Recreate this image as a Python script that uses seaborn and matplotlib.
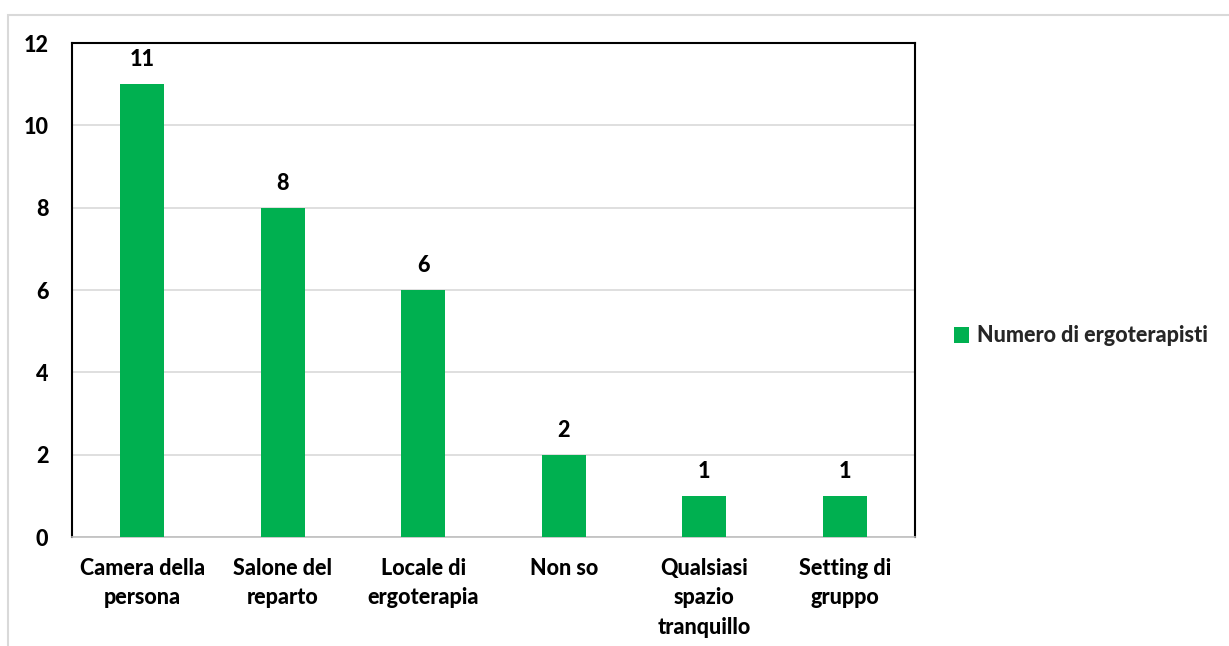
import matplotlib
matplotlib.use("Agg")
import matplotlib.pyplot as plt
import seaborn as sns
import pandas as pd
from matplotlib.patches import Patch, Rectangle

categories = ["Camera della\npersona", "Salone del\nreparto", "Locale di\nergoterapia",
              "Non so", "Qualsiasi\nspazio\ntranquillo", "Setting di\ngruppo"]
values = [11, 8, 6, 2, 1, 1]
series_name = "Numero di ergoterapisti"
yticks = [0, 2, 4, 6, 8, 10, 12]

sns.set_theme(style="white")
plt.rcParams["font.family"] = ["Lato", "DejaVu Sans"]
plt.rcParams["font.weight"] = 900

BAR = "#00B050"
FS = 15.5
W = 900
df = pd.DataFrame({"cat": categories, "val": values})

fig = plt.figure(figsize=(12.29, 6.46), dpi=100)
ax = fig.add_axes([72 / 1229, 1 - 537 / 646, (915 - 72) / 1229, (537 - 43) / 646])

sns.barplot(data=df, x="cat", y="val", color=BAR, saturation=1, width=0.31, ax=ax, zorder=3)
for p in ax.patches:
    p.set_edgecolor("none")

ax.set_ylim(0, 12)
ax.set_xlim(-0.5, len(categories) - 0.5)
ax.set_yticks(yticks)
ax.set_yticklabels([str(t) for t in yticks], fontsize=FS, fontweight=W, color="black")
ax.set_xticks(range(len(categories)))
ax.set_xticklabels(categories, fontsize=FS, fontweight=W, color="black", linespacing=1.5)
ax.yaxis.grid(True, color="#d9d9d9", linewidth=1.2, zorder=0)
ax.set_axisbelow(True)
ax.set_xlabel("")
ax.set_ylabel("")

for side in ["left", "top", "right"]:
    ax.spines[side].set_color("black")
    ax.spines[side].set_linewidth(1.5)
ax.spines["bottom"].set_color("#bfbfbf")
ax.spines["bottom"].set_linewidth(1.2)

ax.tick_params(axis="y", length=0, pad=17)
ax.tick_params(axis="x", length=0, pad=15)

for i, v in enumerate(values):
    ax.annotate(str(v), (i, v), xytext=(0, 10), textcoords="offset points",
                ha="center", va="bottom", fontsize=FS, fontweight=W, color="black")

handle = Patch(facecolor=BAR, edgecolor="none", label=series_name)
fig.legend(handles=[handle], loc="center left", bbox_to_anchor=(935 / 1229, 1 - 336 / 646),
           frameon=False, prop={"weight": W, "size": FS},
           handlelength=0.7, handleheight=0.7, handletextpad=0.35)

# outer chart frame
fig.patches.append(Rectangle((8 / 1229, -0.01), 1.1, 1 - 15 / 646 + 0.01,
                             transform=fig.transFigure, fill=False,
                             edgecolor="#d9d9d9", linewidth=1.5))

fig.savefig("out.png", dpi=100, facecolor="white")
